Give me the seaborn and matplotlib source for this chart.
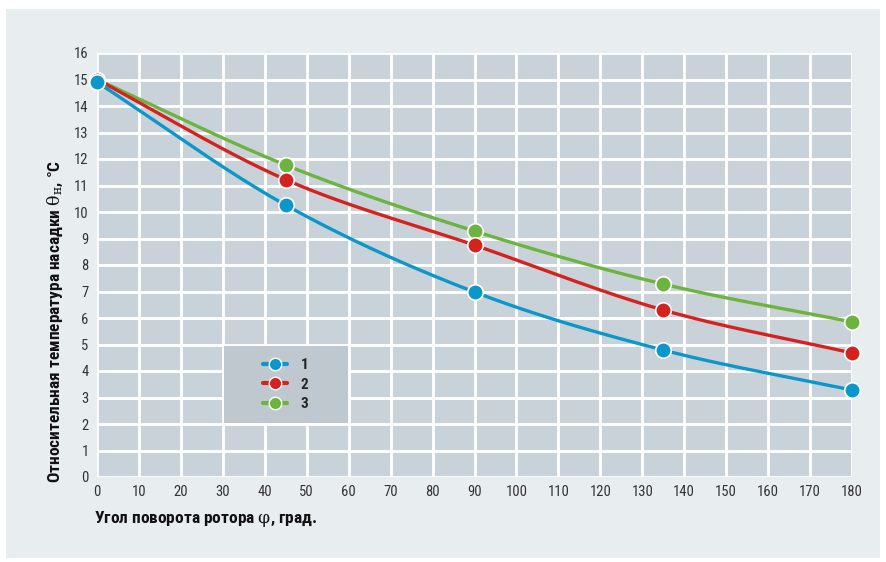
import numpy as np
import pandas as pd
import matplotlib
matplotlib.use("Agg")
import matplotlib.pyplot as plt
from matplotlib.patches import Rectangle
from matplotlib.lines import Line2D
from matplotlib import font_manager
import seaborn as sns

# Rotor angle, degrees
angle = [0, 45, 90, 135, 180]
# Relative packing temperature for the three cases
temp_1 = [14.9, 10.26, 6.98, 4.79, 3.28]
temp_2 = [15.0, 11.22, 8.75, 6.30, 4.68]
temp_3 = [15.0, 11.77, 9.28, 7.28, 5.85]
series_names = ["1", "2", "3"]
series_colors = ["#0b97c9", "#d4221f", "#6cb43f"]

x_ticks = list(range(0, 181, 10))
y_ticks = list(range(0, 17))
x_label = "Угол поворота ротора $\\mathrm{\\varphi}$, град."
y_label = "Относительная температура насадки $\\mathrm{\\theta_{н}}$, °C"

sns.set_theme(style="white")
available = {f.name for f in font_manager.fontManager.ttflist}
narrow = [f for f in ["Liberation Sans Narrow", "Roboto Condensed", "Open Sans Condensed"] if f in available]
plt.rcParams["font.family"] = narrow + ["Roboto", "DejaVu Sans"]
plt.rcParams["mathtext.fontset"] = "dejavuserif"


def smooth(xs, ys, n=60):
    """Cubic Hermite curve through the points with finite-difference slopes."""
    xs = np.asarray(xs, float)
    ys = np.asarray(ys, float)
    m = np.gradient(ys, xs)
    out_x, out_y = [], []
    for i in range(len(xs) - 1):
        h = xs[i + 1] - xs[i]
        t = np.linspace(0, 1, n, endpoint=(i == len(xs) - 2))
        h00 = 2 * t**3 - 3 * t**2 + 1
        h10 = t**3 - 2 * t**2 + t
        h01 = -2 * t**3 + 3 * t**2
        h11 = t**3 - t**2
        out_x.append(xs[i] + t * h)
        out_y.append(h00 * ys[i] + h10 * h * m[i] + h01 * ys[i + 1] + h11 * h * m[i + 1])
    return np.concatenate(out_x), np.concatenate(out_y)


fig = plt.figure(figsize=(8.86, 5.62), dpi=100)
fig.patch.set_facecolor("white")
panel = Rectangle((6 / 886, 1 - 558 / 562), 874 / 886, 549 / 562,
                  transform=fig.transFigure, facecolor="#e8edf0",
                  edgecolor="none", zorder=-10)
fig.add_artist(panel)
ax = fig.add_axes([97 / 886, 1 - 477 / 562, 755 / 886, 424 / 562])
ax.set_zorder(1)
ax.set_facecolor("#c9d2d9")

all_series = [temp_1, temp_2, temp_3]
# draw in reverse so series 1 sits on top
for name, vals, col in reversed(list(zip(series_names, all_series, series_colors))):
    sx, sy = smooth(angle, vals)
    sns.lineplot(x=sx, y=sy, ax=ax, color=col, linewidth=2.4, sort=False, zorder=3)
    sns.scatterplot(x=angle, y=vals, ax=ax, color=col, s=125, edgecolor="white",
                    linewidth=1.2, zorder=4, clip_on=False)

ax.set_xlim(0, 180)
ax.set_ylim(0, 16)
ax.set_xticks(x_ticks)
ax.set_yticks(y_ticks)
ax.grid(True, color="white", linewidth=2)
ax.set_axisbelow(True)
for s in ax.spines.values():
    s.set_visible(False)
ax.tick_params(axis="both", length=0, labelsize=10.5, colors="#333333", pad=6)

ax.set_xlabel(x_label, fontsize=12.5, fontweight="bold", color="#111111")
ax.xaxis.set_label_coords(-0.004, -0.075)
ax.xaxis.label.set_ha("left")
ax.set_ylabel(y_label, fontsize=12.5, fontweight="bold", color="#111111")
ax.yaxis.set_label_coords(-0.042, -0.014)
ax.yaxis.label.set_ha("left")

# legend panel
ax.add_patch(Rectangle((0.168, 0.127), 0.164, 0.182, transform=ax.transAxes,
                       facecolor="#c0c8cf", edgecolor="none", zorder=2))
handles = [Line2D([0], [0], color=c, linewidth=3, marker="o", markersize=9,
                  markeredgecolor="white", markeredgewidth=1) for c in series_colors]
leg = ax.legend(handles, series_names, loc="center",
                bbox_to_anchor=(0.168, 0.127, 0.164, 0.182),
                frameon=False, handlelength=1.6, handletextpad=0.9,
                labelspacing=0.35, prop={"weight": "bold", "size": 11})
leg.set_zorder(5)

fig.savefig("out.png", dpi=100)
